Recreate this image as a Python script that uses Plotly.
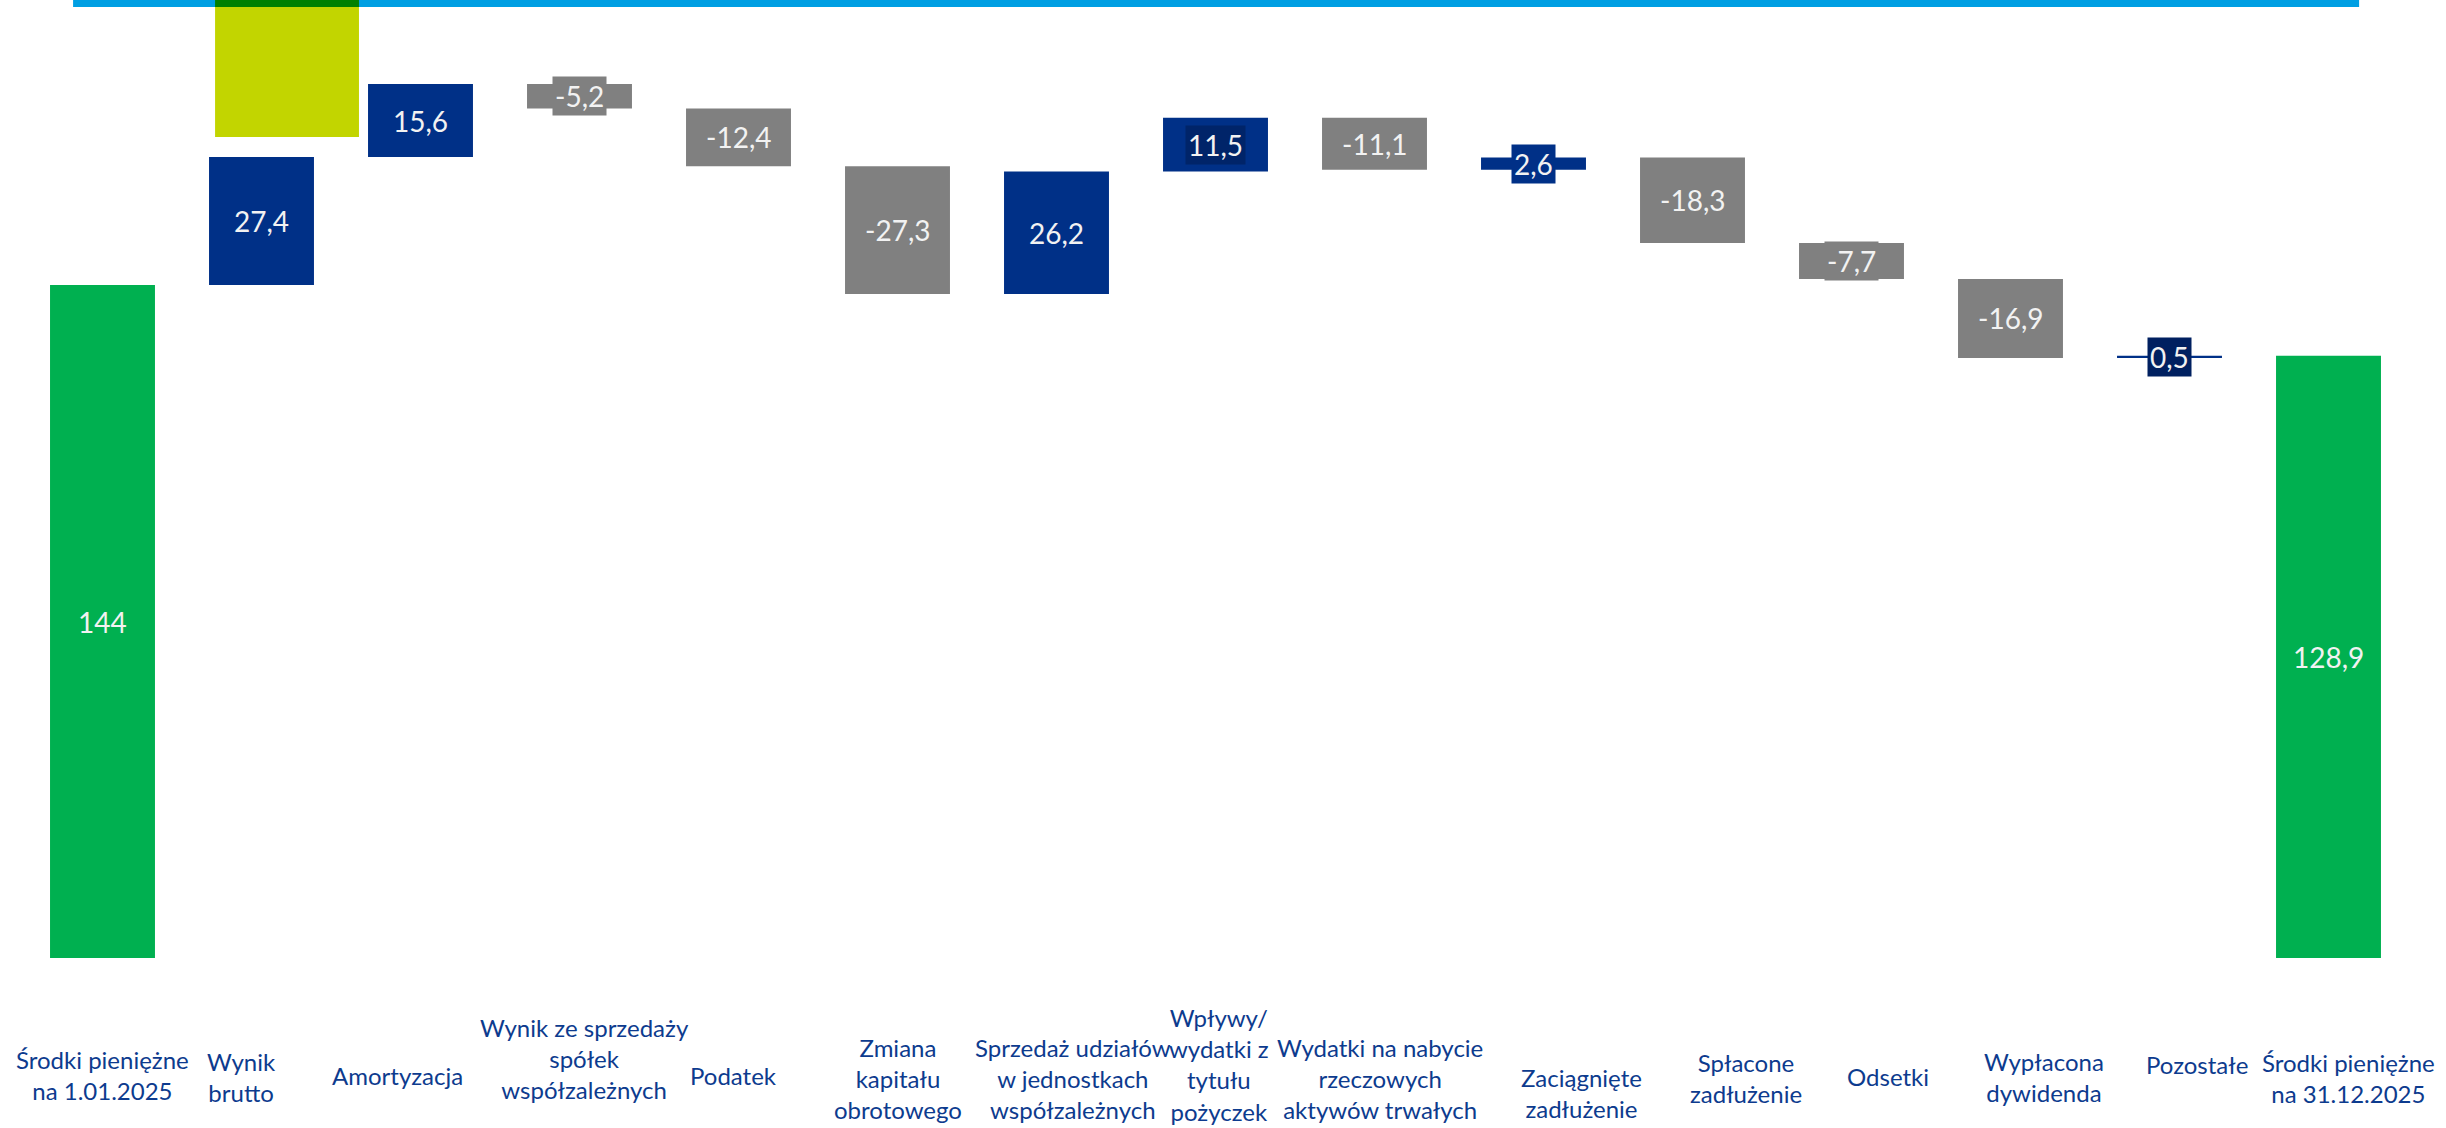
import plotly.graph_objects as go

# ---------------- data ----------------
categories = [
    "Środki pieniężne<br>na 1.01.2025",
    "Wynik<br>brutto",
    "Amortyzacja",
    "Wynik ze sprzedaży<br>spółek<br>współzależnych",
    "Podatek",
    "Zmiana<br>kapitału<br>obrotowego",
    "Sprzedaż udziałów<br>w jednostkach<br>współzależnych",
    "Wpływy/<br>wydatki z<br>tytułu<br>pożyczek",
    "Wydatki na nabycie<br>rzeczowych<br>aktywów trwałych",
    "Zaciągnięte<br>zadłużenie",
    "Spłacone<br>zadłużenie",
    "Odsetki",
    "Wypłacona<br>dywidenda",
    "Pozostałe",
    "Środki pieniężne<br>na 31.12.2025",
]
values = [144, 27.4, 15.6, -5.2, -12.4, -27.3, 26.2, 11.5, -11.1, 2.6, -18.3, -7.7, -16.9, 0.5, 128.9]
measures = ["absolute"] + ["relative"] * 13 + ["total"]

# label background boxes for small bars (None = no box)
label_bg = [None, None, None, "#808080", None, None, None, "#002469",
            None, "#003087", None, "#808080", None, "#002060", None]

# ---------------- style ----------------
NAVY = "#003087"
GREY = "#808080"
GREEN = "#00b050"
LABEL_BLUE = "#0d3b8e"
FONT = "Lato"
H = 1128
# pixel offsets of the category captions (layout only)
cap_dx = [0, -20, -23, 5, -5, 0, 16, 3, 5, 48, 53, 36, 33, 27, 20]
cap_cy = [1075, 1077, 1075, 1058, 1075, 1078, 1078, 1064, 1078, 1093, 1078, 1076, 1077, 1064, 1078]

fig = go.Figure()
fig.add_trace(go.Waterfall(
    x=list(range(len(categories))),
    y=values,
    measure=measures,
    increasing=dict(marker=dict(color=NAVY)),
    decreasing=dict(marker=dict(color=GREY)),
    totals=dict(marker=dict(color=GREEN)),
    connector=dict(visible=False),
    textposition="none",
    hoverinfo="skip",
))

PLOT_BOTTOM = 958  # pixel row of the zero line
annotations = []
cum = 0.0
for i, (v, m) in enumerate(zip(values, measures)):
    if m == "absolute":
        lo, hi = 0.0, v
        cum = v
    elif m == "total":
        lo, hi = 0.0, cum
    else:
        lo, hi = cum, cum + v
        cum = cum + v
    mid = (lo + hi) / 2.0
    txt = ("%g" % v).replace(".", ",")
    ann = dict(x=i, y=mid, xref="x", yref="y", text=txt, showarrow=False,
               font=dict(family=FONT, size=28, color="#f2f2f2"),
               xanchor="center", yanchor="middle")
    if label_bg[i]:
        ann["bgcolor"] = label_bg[i]
        ann["borderpad"] = 2
    annotations.append(ann)

for i, c in enumerate(categories):
    annotations.append(dict(
        x=i, y=(PLOT_BOTTOM - cap_cy[i]) / PLOT_BOTTOM, xref="x", yref="paper",
        text=c, showarrow=False, xshift=cap_dx[i],
        font=dict(family=FONT, size=24, color=LABEL_BLUE),
        xanchor="center", yanchor="middle", align="center"))

shapes = [
    dict(type="rect", xref="paper", yref="paper", x0=0.021, x1=0.9795, y0=0.9927, y1=1.0,
         fillcolor="#009fe3", line=dict(width=0), layer="above"),
    dict(type="rect", xref="x", yref="paper", x0=0.708, x1=1.613, y0=0.9927, y1=1.0,
         fillcolor="#008000", line=dict(width=0), layer="above"),
    dict(type="rect", xref="x", yref="y", x0=0.708, x1=1.613, y0=175.7, y1=203.5,
         fillcolor="#c2d500", line=dict(width=0), layer="above"),
]

fig.update_layout(
    width=2446, height=H,
    margin=dict(l=23, r=38, t=0, b=H - PLOT_BOTTOM),
    paper_bgcolor="white", plot_bgcolor="white",
    showlegend=False,
    waterfallgap=0.34,
    xaxis=dict(range=[-0.5, 14.5], showticklabels=False, showgrid=False,
               zeroline=False, showline=False, ticks=""),
    yaxis=dict(range=[0, 205], visible=False, showgrid=False, zeroline=False),
    annotations=annotations,
    shapes=shapes,
    font=dict(family=FONT),
)

fig.write_html("out.html", config={"displayModeBar": False},
               post_script="document.body.style.margin='0';document.body.style.overflow='hidden';")
